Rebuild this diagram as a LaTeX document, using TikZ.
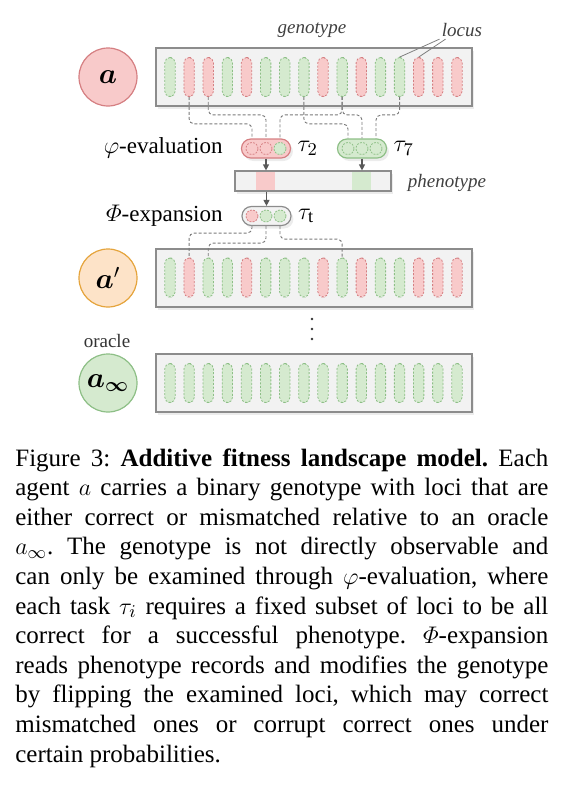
\documentclass[tikz,border=0pt]{standalone}
\usepackage{amsmath}
\usepackage{fontspec}
\setmainfont{Liberation Serif}
\usetikzlibrary{arrows.meta,shadows}
\definecolor{redfill}{HTML}{F8CACA}
\definecolor{redline}{HTML}{D57F82}
\definecolor{greenfill}{HTML}{D5EACF}
\definecolor{greenline}{HTML}{8DBF86}
\definecolor{boxfill}{HTML}{F2F2F2}
\definecolor{boxline}{HTML}{8C8C8C}
\definecolor{orangefill}{HTML}{FDE3C8}
\definecolor{orangeline}{HTML}{E5A43C}
\definecolor{linkgray}{HTML}{7A7A7A}
\begin{document}
\begin{tikzpicture}[x=0.5pt, y=-0.5pt,
	shade/.style={drop shadow={shadow xshift=1.2pt, shadow yshift=-1.5pt, opacity=0.15}},
	box/.style={shape=rectangle, draw=boxline, line width=0.6pt, fill=boxfill, minimum width=158pt, minimum height=29pt, inner sep=0pt, shade},
	agent/.style={shape=circle, line width=0.6pt, minimum size=29pt, inner sep=0pt, font=\fontsize{14}{16}\selectfont},
	bar/.style={shape=rectangle, rounded corners=2.6pt, minimum width=5.2pt, minimum height=19.5pt, inner sep=0pt, line width=0.4pt, dash pattern=on 1pt off 0.8pt},
	barg/.style={bar, fill=greenfill, draw=greenline},
	barr/.style={bar, fill=redfill, draw=redline},
	pill/.style={shape=rectangle, rounded corners=4.7pt, minimum width=24.5pt, minimum height=9.5pt, inner sep=0pt, line width=0.6pt, shade},
	dot/.style={shape=circle, minimum size=6pt, inner sep=0pt, line width=0.4pt, dash pattern=on 0.9pt off 0.7pt},
	dotg/.style={dot, fill=greenfill, draw=greenline},
	dotr/.style={dot, fill=redfill, draw=redline},
	link/.style={draw=linkgray, line width=0.45pt, dash pattern=on 1.5pt off 1pt, rounded corners=2.5pt},
	arr/.style={draw=black!65, line width=0.6pt, -{Triangle[length=3pt, width=3pt]}},
	tag/.style={font=\fontsize{9.5}{11}\selectfont\itshape, text=black!75, inner sep=1pt},
	step label/.style={font=\fontsize{11.5}{13}\selectfont, anchor=east, inner sep=0pt},
	task label/.style={font=\fontsize{13}{15}\selectfont, anchor=west, inner sep=3pt}]
	\useasboundingbox (0,0) rectangle (566,789);

	\node (a) at (108,77) [agent, fill=redfill, draw=redline] {$\boldsymbol{a}$};
	\node (gbox) at (314,77) [box] {};
	\foreach \c [count=\i] in {g,r,r,g,r,g,g,g,r,g,r,g,g,r,r,r}
		\node (ga\i) at ({170+19.13*(\i-1)},77) [bar\c] {};
	\node (geno) at (312,30) [tag] {genotype};
	\node (locus) at (462,30) [tag] {locus};
	\draw [gray, line width=0.4pt] (locus.south west) -- (ga13.north);
	\draw [gray, line width=0.4pt] ([xshift=3pt]locus.south west) -- (ga14.north);

	\node (t2) at (266,148.5) [pill, fill=redfill, draw=redline] {};
	\node (e1) at (252,148.5) [dotr] {};
	\node (e2) at (266,148.5) [dotr] {};
	\node (e3) at (280,148.5) [dotg] {};
	\node at (t2.east) [task label] {$\tau_2$};
	\node (t7) at (362,148.5) [pill, fill=greenfill, draw=greenline] {};
	\node (f1) at (348,148.5) [dotg] {};
	\node (f2) at (362,148.5) [dotg] {};
	\node (f3) at (376,148.5) [dotg] {};
	\node at (t7.east) [task label] {$\tau_7$};
	\node (eval) at (223,148) [step label] {$\varphi$-evaluation};

	\draw [link] (ga2.south) -- ++(0,27) -| (e1.north |- t2.north);
	\draw [link] (ga3.south) -- ++(0,18) -| (e2.north |- t2.north);
	\draw [link] (ga10.south) -- ++(0,18) -| (e3.north |- t2.north);
	\draw [link] (ga10.south) -- ++(0,18) -| (f2.north |- t7.north);
	\draw [link] (ga8.south) -- ++(0,27) -| (f1.north |- t7.north);
	\draw [link] (ga13.south) -- ++(0,18) -| (f3.north |- t7.north);

	\node (ph) at (313,181) [shape=rectangle, draw=boxline, line width=0.6pt, fill=boxfill, minimum width=78pt, minimum height=10pt, inner sep=0pt, shade] {};
	\node (phr) at (265,181) [shape=rectangle, fill=redfill, minimum width=9.5pt, minimum height=9.4pt, inner sep=0pt] {};
	\node (phg) at (361,181) [shape=rectangle, fill=greenfill, minimum width=9.5pt, minimum height=9.4pt, inner sep=0pt] {};
	\node (pheno) at (447,183) [tag] {phenotype};
	\draw [arr] (t2.south) -- (t2.south |- ph.north);
	\draw [arr] (t7.south) -- (t7.south |- ph.north);

	\node (tt) at (266.5,216) [pill, fill=boxfill, draw=boxline] {};
	\node (g1) at (252,216) [dotr] {};
	\node (g2) at (266,216) [dotg] {};
	\node (g3) at (280,216) [dotg] {};
	\node at (tt.east) [task label] {$\tau_{\mathrm{t}}$};
	\node (expa) at (223,216) [step label] {$\varPhi$-expansion};
	\draw [arr] (tt.north |- ph.south) -- (tt.north);

	\node (a1) at (108,278) [agent, fill=orangefill, draw=orangeline] {$\boldsymbol{a}'$};
	\node (hbox) at (314,278) [box] {};
	\foreach \c [count=\i] in {g,r,g,g,r,g,g,g,r,g,r,g,g,r,r,r}
		\node (ha\i) at ({170+19.13*(\i-1)},277.5) [bar\c] {};
	\draw [link] (g1.south |- tt.south) -- ++(0,7) -| (ha2.north);
	\draw [link] (g2.south |- tt.south) -- ++(0,17) -| (ha3.north);
	\draw [link] (g3.south |- tt.south) -- ++(0,13) -| (ha10.north);

	\foreach \y in {319,329,339}
		\fill [black!80] (312,\y) circle (0.7pt);

	\node (orc) at (107,341) [font=\fontsize{9.5}{11}\selectfont, text=black!80] {oracle};
	\node (ainf) at (108,383) [agent, fill=greenfill, draw=greenline] {$\boldsymbol{a}_{\boldsymbol{\infty}}$};
	\node (obox) at (314,383) [box] {};
	\foreach \i in {1,...,16}
		\node (oa\i) at ({170+19.13*(\i-1)},383) [barg] {};

	\node (cap) at (15,466) [anchor=base west, inner sep=0pt, text width=266.5pt, align=justify, font=\fontsize{12.5}{14.8}\selectfont\frenchspacing] {Figure 3: \textbf{Additive fitness landscape model.} Each\linebreak
	agent $a$ carries a binary genotype with loci that are\linebreak
	either correct or mismatched relative to an oracle\linebreak
	$a_\infty$. The genotype is not directly observable and\linebreak
	can only be examined through $\varphi$-evaluation, where\linebreak
	each task $\tau_i$ requires a fixed subset of loci to be all\linebreak
	correct for a successful phenotype. $\varPhi$-expansion\linebreak
	reads phenotype records and modifies the genotype\linebreak
	by flipping the examined loci, which may correct\linebreak
	mismatched ones or corrupt correct ones under\linebreak
	certain probabilities.};
\end{tikzpicture}
\end{document}
